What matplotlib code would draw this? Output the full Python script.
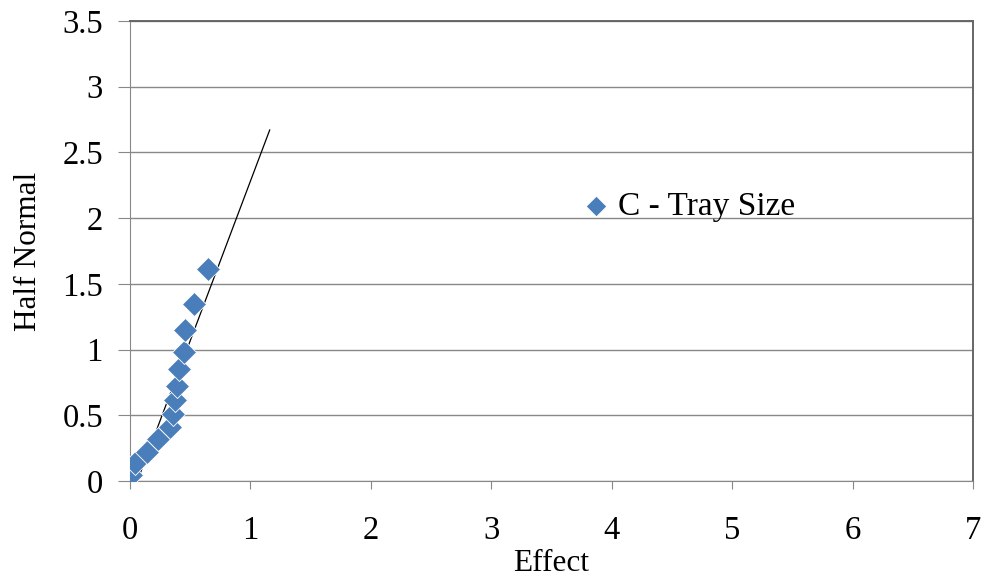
import matplotlib
from matplotlib import pyplot as plt

matplotlib.use("Agg")

# 効果の半正規プロット
effect = [0.01, 0.04, 0.14, 0.23, 0.33, 0.36, 0.37, 0.39, 0.41, 0.45, 0.46, 0.53, 0.65]
half_normal = [0.05, 0.14, 0.22, 0.32, 0.41, 0.51, 0.62, 0.72, 0.85, 0.98, 1.15, 1.35, 1.61]

# 近似直線の両端
fit_x = [0.06, 1.16]
fit_y = [0.0, 2.67]

series_label = "C - Tray Size"

plt.rcParams["font.family"] = ["Liberation Serif", "DejaVu Serif"]

fig = plt.figure(figsize=(9.82, 5.77), dpi=100)
ax = fig.add_axes([0.1324, 0.166, 0.8585, 0.798])

ax.yaxis.grid(True, color="#888888", linewidth=1.0)
ax.set_axisbelow(True)

ax.plot(fit_x, fit_y, color="black", linewidth=0.9, zorder=2)
ax.scatter(effect, half_normal, marker="D", s=150, color="#4a7ebb",
           edgecolors="white", linewidths=0.6, zorder=3)

ax.set_xlim(0, 7)
ax.set_ylim(0, 3.5)
ax.set_xticks(range(0, 8))
ax.set_yticks([0, 0.5, 1, 1.5, 2, 2.5, 3, 3.5])
ax.set_yticklabels(["0", "0.5", "1", "1.5", "2", "2.5", "3", "3.5"])

for side in ["left", "bottom"]:
    ax.spines[side].set_color("#888888")
for side in ["right", "top"]:
    ax.spines[side].set_color("#666666")
    ax.spines[side].set_linewidth(1.4)

ax.tick_params(axis="both", direction="out", color="#888888", labelsize=23.5)
ax.tick_params(axis="x", length=6, pad=19)
ax.tick_params(axis="y", length=8.5, pad=11)

ax.set_xlabel("Effect", fontsize=22.5, labelpad=2)
ax.set_ylabel("Half Normal", fontsize=22.5, labelpad=14)

# 凡例（プロット領域内）
ax.scatter([3.87], [2.09], marker="D", s=110, color="#4a7ebb", edgecolors="white",
           linewidths=0.6, zorder=3)
ax.text(4.05, 2.09, series_label, fontsize=24, va="center", ha="left")

fig.savefig("out.png", dpi=100, facecolor="white")
